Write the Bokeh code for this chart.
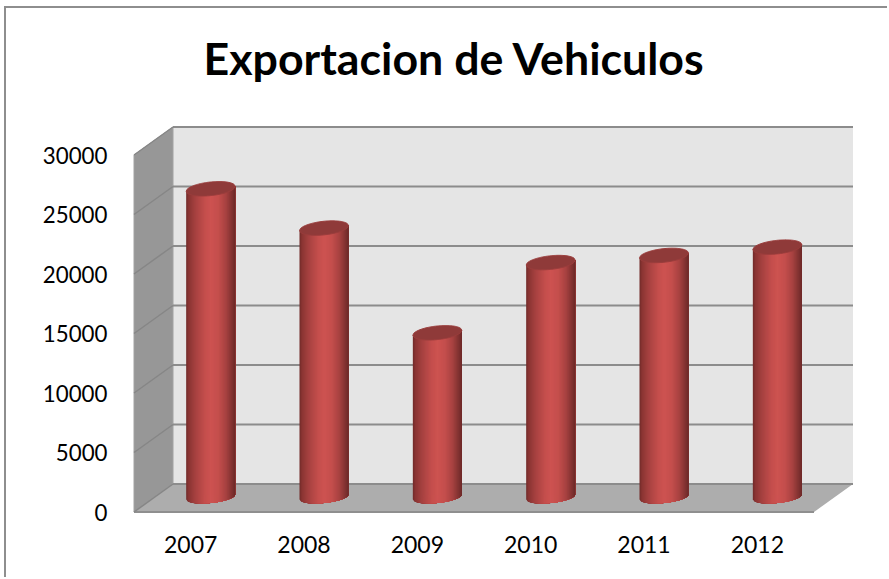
from bokeh.plotting import figure
from bokeh.models import ColumnDataSource, Range1d, FixedTicker, Title
from bokeh.embed import file_html
from bokeh.resources import INLINE
import math

years = ["2007", "2008", "2009", "2010", "2011", "2012"]
exports = [25900, 22600, 13800, 19700, 20300, 21000]
y_ticks = [0, 5000, 10000, 15000, 20000, 25000, 30000]

# page layout in pixels
ORG_X, ORG_Y = 6, 8          # figure origin on the page (inside its border)
W, H = 889 - ORG_X, 579 - ORG_Y
L, R, T, B = 131, 855, 89, 513   # frame edges, page pixels
AX_L, AX_R, AX_B = 133.5, 813.5, 511.5  # front axis
CAT = (AX_R - AX_L) / 6
PX_PER_VAL = 0.0119
DX, DY = 39, 28              # depth of the 3D box
BDX, BDY = 20, 15            # bars stand mid-depth
HALF_W, ELL_T, ELL_B, SHEAR = 24.5, 6.8, 6.0, 0.10

def X(px):  # px offset to category units
    return px / CAT
def Y(px):  # px offset (up) to value units
    return px / PX_PER_VAL

x0 = (L - (AX_L + CAT / 2)) / CAT
x1 = (R - (AX_L + CAT / 2)) / CAT
y0 = (AX_B - B) / PX_PER_VAL
y1 = (AX_B - T) / PX_PER_VAL

p = figure(width=W, height=H, output_backend="svg", toolbar_location=None,
           x_range=Range1d(x0, x1), y_range=Range1d(y0, y1),
           min_border_left=L - ORG_X, min_border_right=W - (R - ORG_X),
           min_border_top=T - ORG_Y, min_border_bottom=H - (B - ORG_Y),
           outline_line_color=None, background_fill_color="white", border_fill_color="white")
p.styles = {"margin-left": f"{ORG_X-2}px", "margin-top": f"{ORG_Y-2}px",
            "border-left": "2px solid #8e8e8e", "border-top": "2px solid #8e8e8e"}
p.grid.visible = False

t = Title(text="Exportacion de Vehiculos", align="left", text_font="Lato", text_font_style="bold",
          text_font_size="44.7px", text_color="black", offset=72)
p.title = t

x_lo, x_hi = -0.5, 5.5
# back wall, left wall, floor
p.patch([x_lo + X(DX), x_hi + X(DX), x_hi + X(DX), x_lo + X(DX)],
        [Y(DY), Y(DY), 30000 + Y(DY), 30000 + Y(DY)], fill_color="#e5e5e5", line_color=None)
p.patch([x_lo, x_lo + X(DX), x_lo + X(DX), x_lo],
        [0, Y(DY), 30000 + Y(DY), 30000], fill_color="#979797", line_color="#a2a2a2", line_width=1)
p.patch([x_lo, x_lo + X(DX), x_hi + X(DX), x_hi],
        [0, Y(DY), Y(DY), 0], fill_color="#adadad", line_color=None)
p.line([x_lo, x_hi], [0, 0], line_color="#8f8f8f", line_width=2)

# gridlines
for v in y_ticks:
    p.line([x_lo + X(DX), x_hi + X(DX)], [v + Y(DY)] * 2, line_color="#8c8c8c", line_width=2)
    p.line([x_lo, x_lo + X(DX)], [v, v + Y(DY)], line_color="#868686", line_width=1.5)

# cylinders
profile = [(0.00, "#6f2a29"), (0.05, "#8a3433"), (0.20, "#a84241"), (0.38, "#c44e4c"),
           (0.50, "#cd5351"), (0.66, "#c44e4c"), (0.82, "#a54140"), (0.94, "#7f3130"), (1.00, "#6c2928")]
def shade(f):
    for (a, ca), (b, cb) in zip(profile, profile[1:]):
        if f <= b:
            k = (f - a) / (b - a)
            c = [round(int(ca[i:i+2], 16) * (1 - k) + int(cb[i:i+2], 16) * k) for i in (1, 3, 5)]
            return "#%02x%02x%02x" % tuple(c)
    return profile[-1][1]

N = 49
xs, ys, cs = [], [], []
tx, ty = [], []
for i, v in enumerate(exports):
    cx = i + X(BDX)
    base = Y(BDY)
    for s in range(N):
        # each stripe runs to the bar's right edge, so the next one paints over any seam
        start = -1 + 2 * s / N
        pts = [start + (1 - start) * k / 24 for k in range(25)]
        bx = [cx + X(q * HALF_W) for q in pts]
        by = [base + Y(-ELL_B * math.sqrt(max(0, 1 - q * q)) + SHEAR * q * HALF_W) for q in pts]
        topy = base + v
        xs.append(bx + [bx[-1], bx[0]])
        ys.append(by + [topy + Y(SHEAR * pts[-1] * HALF_W), topy + Y(SHEAR * pts[0] * HALF_W)])
        cs.append(shade((s + 0.5) / N))
    q = [-1 + 2 * k / 48 for k in range(49)]
    ex = [cx + X(a * HALF_W) for a in q]
    ey = [base + v + Y(-ELL_T * math.sqrt(max(0, 1 - a * a)) + SHEAR * a * HALF_W) for a in q]
    ex2 = [cx + X(a * HALF_W) for a in reversed(q)]
    ey2 = [base + v + Y(ELL_T * math.sqrt(max(0, 1 - a * a)) + SHEAR * a * HALF_W) for a in reversed(q)]
    tx.append(ex + ex2)
    ty.append(ey + ey2)

src = ColumnDataSource(dict(xs=xs, ys=ys, c=cs))
p.patches("xs", "ys", source=src, fill_color="c", line_color=None)
p.patches(tx, ty, fill_color="#8f3a39", line_color="#9a3d3c", line_width=1)

# axes
p.yaxis.ticker = FixedTicker(ticks=y_ticks)
p.xaxis.ticker = FixedTicker(ticks=list(range(len(years))))
p.xaxis.major_label_overrides = {i: y for i, y in enumerate(years)}
for ax in (p.xaxis, p.yaxis):
    ax.axis_line_color = None
    ax.major_tick_line_color = None
    ax.minor_tick_line_color = None
    ax.major_label_text_font = "Lato"
    ax.major_label_text_color = "black"
p.xaxis.major_label_text_font_size = "23px"
p.yaxis.major_label_text_font_size = "22.3px"
p.xaxis.major_label_standoff = 16
p.yaxis.major_label_standoff = 18

open("out.html", "w").write(file_html(p, INLINE))
